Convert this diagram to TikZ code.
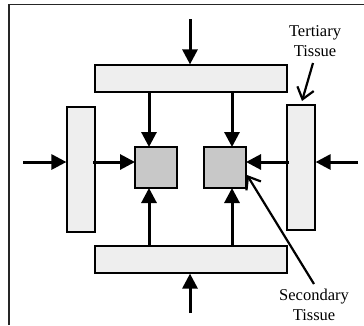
\documentclass[tikz,border=0pt]{standalone}
\usepackage{fontspec}
\setmainfont{Liberation Serif}
\usetikzlibrary{arrows.meta}
\definecolor{barfill}{HTML}{EEEEEE}
\definecolor{sqfill}{HTML}{C8C8C8}
\begin{document}
\begin{tikzpicture}[x=1pt,y=-1pt,
  bar/.style={draw=black,line width=1.2pt,fill=barfill},
  sq/.style={draw=black,line width=1.2pt,fill=sqfill},
  flow/.style={line width=3pt,-{Triangle[length=15pt,width=15pt]}},
  callout/.style={line width=2.2pt,-{Straight Barb[length=11pt,width=17pt,line width=2.2pt]}},
  lbl/.style={font=\fontsize{16.5}{20}\selectfont,align=center,inner sep=0pt}]
\useasboundingbox (0,0) rectangle (364,325);
\draw[line width=1.6pt,draw=black!85] (9,325) -- (9,4.5) -- (364,4.5);
% bars
\node[bar,minimum width=192pt,minimum height=27pt,inner sep=0pt] (top) at (191,78.5) {};
\node[bar,minimum width=192pt,minimum height=27pt,inner sep=0pt] (bot) at (191,259.5) {};
\node[bar,minimum width=28pt,minimum height=125pt,inner sep=0pt] (lft) at (81,169.5) {};
\node[bar,minimum width=28pt,minimum height=125pt,inner sep=0pt] (rgt) at (301,167.5) {};
% squares
\node[sq,minimum width=42pt,minimum height=41pt,inner sep=0pt] (ls) at (156,167.5) {};
\node[sq,minimum width=42pt,minimum height=41pt,inner sep=0pt] (rs) at (225,167.5) {};
% free ends
\coordinate (tin) at (190,19);
\coordinate (bin) at (190,313);
\coordinate (lin) at (23,162);
\coordinate (rin) at (358,162);
% arrows
\draw[flow] (tin) -- (tin |- top.north);
\draw[flow] (bin) -- (bin |- bot.south);
\draw[flow] (lin) -- (lin -| lft.west);
\draw[flow] (rin) -- (rin -| rgt.east);
\draw[flow] (149,92) -- (149,147);
\draw[flow] (232,92) -- (232,147);
\draw[flow] (149,246) -- (149,188);
\draw[flow] (232,246) -- (232,188);
\draw[flow] (93,162) -- (135,162);
\draw[flow] (289,162) -- (246,162);
% labels
\node[lbl] (tert) at (315,41) {Tertiary\\Tissue};
\node[lbl] (sec) at (314,305) {Secondary\\Tissue};
\draw[callout] (313,63) -- (302,101);
\draw[callout] (314,284) -- (247,175);
\end{tikzpicture}
\end{document}
